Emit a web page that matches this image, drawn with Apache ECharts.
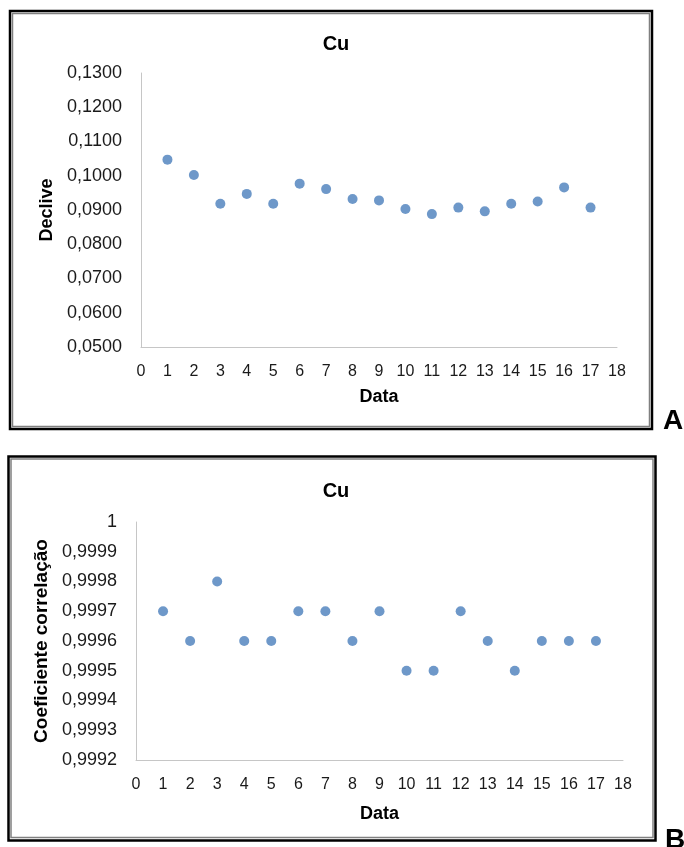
<!DOCTYPE html>
<html>
<head>
<meta charset="utf-8">
<script src="https://cdn.jsdelivr.net/npm/echarts@6/dist/echarts.min.js"></script>
<style>
html,body{margin:0;padding:0;background:#fff;}
#c{width:684px;height:847px;}
</style>
</head>
<body>
<div id="c"></div>
<script>
// Data
var datas = [1,2,3,4,5,6,7,8,9,10,11,12,13,14,15,16,17];
var decliveValues = [0.1047,0.1002,0.0918,0.0947,0.0918,0.0977,0.0961,0.0932,0.0928,0.0903,0.0888,0.0907,0.0896,0.0918,0.0925,0.0966,0.0907];
var correlValues = [0.9997,0.9996,0.9998,0.9996,0.9996,0.9997,0.9997,0.9996,0.9997,0.9995,0.9995,0.9997,0.9996,0.9995,0.9996,0.9996,0.9996];
var titleText = 'Cu';
var xName = 'Data';
var yNameA = 'Declive';
var yNameB = 'Coeficiente correlação';
var panelLabels = ['A','B'];

var FONT = '"Liberation Sans", Arial, sans-serif';
var BLUE = '#4a7ebb';
var AXIS = '#c6c6c6';

function fmtComma(v){
  if (Math.abs(v - 1) < 1e-9) return '1';
  return v.toFixed(4).replace('.', ',');
}

var chart = echarts.init(document.getElementById('c'), null, {renderer:'canvas'});

function xAxisCfg(gi, gap){
  return {
    gridIndex: gi, type:'value', min:0, max:18, interval:1,
    name: xName, nameLocation:'middle', nameGap: gap,
    nameTextStyle:{fontFamily:FONT, fontWeight:'bold', fontSize:18, color:'#000'},
    axisLine:{show:true, onZero:false, lineStyle:{color:AXIS, width:1}},
    axisTick:{show:false},
    splitLine:{show:false},
    axisLabel:{fontFamily:FONT, fontSize:16, color:'#1a1a1a', margin:17}
  };
}

var option = {
  animation:false,
  backgroundColor:'#fff',
  title:[
    {text:titleText, left:331, top:29, textAlign:'center',
     textStyle:{fontFamily:FONT, fontWeight:'bold', fontSize:20, color:'#000'}},
    {text:titleText, left:331, top:476, textAlign:'center',
     textStyle:{fontFamily:FONT, fontWeight:'bold', fontSize:20, color:'#000'}}
  ],
  grid:[
    {left:141, top:73, width:476, height:274},
    {left:136, top:522, width:487, height:238}
  ],
  xAxis:[xAxisCfg(0, 41), xAxisCfg(1, 45)],
  yAxis:[
    {gridIndex:0, type:'value', min:0.05, max:0.13, interval:0.01,
     name:yNameA, nameLocation:'middle', nameGap:84,
     nameTextStyle:{fontFamily:FONT, fontWeight:'bold', fontSize:18, color:'#000'},
     axisLine:{show:true, lineStyle:{color:AXIS, width:1}},
     axisTick:{show:false}, splitLine:{show:false},
     axisLabel:{fontFamily:FONT, fontSize:18, color:'#1a1a1a', margin:19, formatter:fmtComma}},
    {gridIndex:1, type:'value', min:0.9992, max:1, interval:0.0001,
     name:yNameB, nameLocation:'middle', nameGap:84,
     nameTextStyle:{fontFamily:FONT, fontWeight:'bold', fontSize:19, color:'#000'},
     axisLine:{show:true, lineStyle:{color:AXIS, width:1}},
     axisTick:{show:false}, splitLine:{show:false},
     axisLabel:{fontFamily:FONT, fontSize:18, color:'#1a1a1a', margin:19, formatter:fmtComma}}
  ],
  series:[
    {type:'scatter', xAxisIndex:0, yAxisIndex:0, symbol:'circle', symbolSize:10,
     itemStyle:{color:BLUE}, data: datas.map(function(d,i){return [d, decliveValues[i]];})},
    {type:'scatter', xAxisIndex:1, yAxisIndex:1, symbol:'circle', symbolSize:10,
     itemStyle:{color:BLUE}, data: datas.map(function(d,i){return [d, correlValues[i]];})}
  ],
  graphic:[
    {type:'rect', shape:{x:10, y:11, width:642, height:418}, style:{fill:null, stroke:'#000', lineWidth:2.5}, z:100},
    {type:'rect', shape:{x:12.5, y:13.5, width:637, height:413}, style:{fill:null, stroke:'#808080', lineWidth:1.5}, z:100},
    {type:'rect', shape:{x:8.5, y:456.5, width:647, height:384}, style:{fill:null, stroke:'#000', lineWidth:2.5}, z:100},
    {type:'rect', shape:{x:11, y:459, width:642, height:378.5}, style:{fill:null, stroke:'#808080', lineWidth:1.5}, z:100},
    {type:'text', left:663, top:407, style:{text:panelLabels[0], fontFamily:FONT, fontWeight:'bold', fontSize:28, fill:'#000'}, z:100},
    {type:'text', left:665, top:826, style:{text:panelLabels[1], fontFamily:FONT, fontWeight:'bold', fontSize:28, fill:'#000'}, z:100}
  ]
};
chart.setOption(option);
</script>
</body>
</html>
